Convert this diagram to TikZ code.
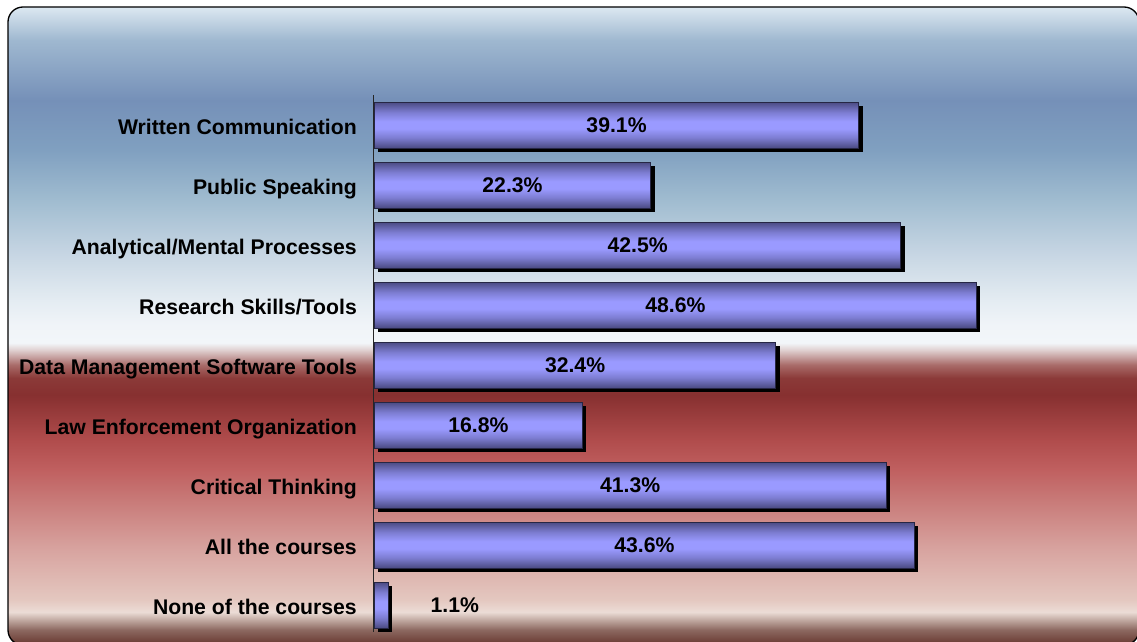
\documentclass[tikz,border=0pt]{standalone}
\usepackage{fontspec}
\setmainfont{Liberation Sans}
\usetikzlibrary{positioning,shadows}

\definecolor{barline}{HTML}{262644}
\definecolor{bardark}{HTML}{4A4A82}
\definecolor{barmid}{HTML}{7C7CD0}
\definecolor{barlight}{HTML}{9A9AFF}

\pgfdeclareverticalshading{barshade}{100bp}{color(0bp)=(bardark); color(25bp)=(bardark);
  color(36bp)=(barmid); color(46bp)=(barlight); color(54bp)=(barlight);
  color(64bp)=(barmid); color(75bp)=(bardark); color(100bp)=(bardark)}

% background: blue at the top, white, then red down to brown
\pgfdeclareverticalshading{bgshade}{100bp}{rgb(0bp)=(0.431,0.251,0.220);
  rgb(25.24bp)=(0.431,0.251,0.220); rgb(26.18bp)=(0.549,0.408,0.376);
  rgb(26.96bp)=(0.753,0.659,0.627); rgb(27.59bp)=(0.925,0.863,0.839);
  rgb(28.53bp)=(0.894,0.784,0.753); rgb(32.45bp)=(0.847,0.643,0.627);
  rgb(36.36bp)=(0.784,0.478,0.471); rgb(38.72bp)=(0.753,0.376,0.376);
  rgb(41.07bp)=(0.690,0.298,0.298); rgb(44.59bp)=(0.529,0.188,0.188);
  rgb(45.92bp)=(0.545,0.227,0.220); rgb(46.94bp)=(0.659,0.416,0.408);
  rgb(48.12bp)=(0.878,0.816,0.816); rgb(48.67bp)=(0.949,0.965,0.976);
  rgb(50.08bp)=(0.941,0.957,0.973); rgb(52.04bp)=(0.894,0.925,0.949);
  rgb(55.96bp)=(0.769,0.831,0.886); rgb(59.87bp)=(0.627,0.737,0.816);
  rgb(63.79bp)=(0.502,0.627,0.753); rgb(67.71bp)=(0.459,0.565,0.722);
  rgb(72.41bp)=(0.624,0.722,0.816); rgb(75bp)=(0.863,0.910,0.945);
  rgb(100bp)=(0.863,0.910,0.945)}

\newcommand{\pctw}{12.386pt}

\begin{document}
\begin{tikzpicture}[x=1pt, y=-1pt,
    font=\fontsize{21.2}{25}\selectfont\bfseries,
    bgbox/.style={draw=black, line width=1.3pt, rounded corners=15pt, shade, shading=bgshade},
    axis/.style={draw=black!85, line width=0.8pt},
    hbar/.style={draw=barline, line width=0.8pt, shade, shading=barshade,
      general shadow={fill=black, shadow xshift=4pt, shadow yshift=-4pt},
      inner sep=0pt, minimum height=46pt, anchor=west},
    lbl/.style={inner sep=0pt, text height=22pt, text depth=4pt},
    val/.style={inner sep=0pt}]
  \useasboundingbox (0,0) rectangle (1137,642);
  \draw[bgbox] (8,7) rectangle (1139,645);
  \draw[axis] (373,95) -- (373,632);

  \node[hbar, minimum width=39.1*\pctw] (wc)   at (374,125) {};
  \node[hbar, minimum width=22.3*\pctw] (ps)   at (374,185) {};
  \node[hbar, minimum width=42.5*\pctw] (amp)  at (374,245) {};
  \node[hbar, minimum width=48.6*\pctw] (rst)  at (374,305) {};
  \node[hbar, minimum width=32.4*\pctw] (dmst) at (374,365) {};
  \node[hbar, minimum width=16.8*\pctw] (leo)  at (374,425) {};
  \node[hbar, minimum width=41.3*\pctw] (ct)   at (374,485) {};
  \node[hbar, minimum width=43.6*\pctw] (all)  at (374,545) {};
  \node[hbar, minimum width=1.1*\pctw]  (none) at (374,605) {};

  \node[lbl, left=17pt of wc]   (wcl)   {Written Communication};
  \node[lbl, left=17pt of ps]   (psl)   {Public Speaking};
  \node[lbl, left=17pt of amp]  (ampl)  {Analytical/Mental Processes};
  \node[lbl, left=17pt of rst]  (rstl)  {Research Skills/Tools};
  \node[lbl, left=17pt of dmst] (dmstl) {Data Management Software Tools};
  \node[lbl, left=17pt of leo]  (leol)  {Law Enforcement Organization};
  \node[lbl, left=17pt of ct]   (ctl)   {Critical Thinking};
  \node[lbl, left=17pt of all]  (alll)  {All the courses};
  \node[lbl, left=17pt of none] (nonel) {None of the courses};

  \node[val] (wcv)   at (wc)   {39.1\%};
  \node[val] (psv)   at (ps)   {22.3\%};
  \node[val] (ampv)  at (amp)  {42.5\%};
  \node[val] (rstv)  at (rst)  {48.6\%};
  \node[val] (dmstv) at (dmst) {32.4\%};
  \node[val] (leov)  at (leo)  {16.8\%};
  \node[val] (ctv)   at (ct)   {41.3\%};
  \node[val] (allv)  at (all)  {43.6\%};
  \node[val, right=42pt of none] (nonev) {1.1\%};
\end{tikzpicture}
\end{document}
